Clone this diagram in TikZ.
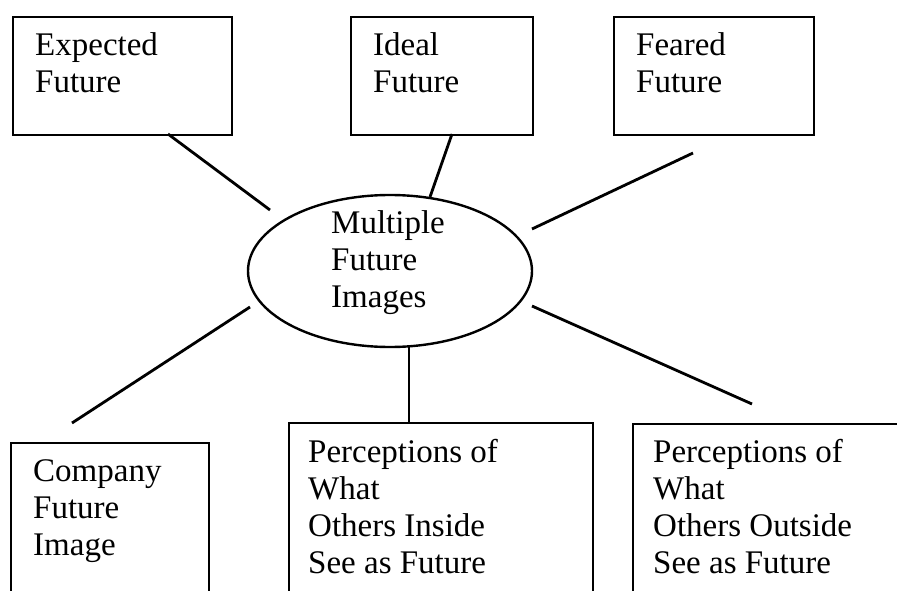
\documentclass[tikz,border=0pt]{standalone}
\usepackage{fontspec}
\setmainfont{Liberation Serif}
\usetikzlibrary{shapes.geometric}

\tikzset{
  box/.style={draw, line width=2.4pt, rectangle, inner sep=0pt, anchor=north west},
  hub/.style={draw, line width=2.4pt, ellipse, inner sep=0pt},
  % base anchor of a multi-line node sits on its last line
  lbl/.style={inner sep=0pt, anchor=base west, align=left,
              font=\fontsize{33}{37}\selectfont},
  link/.style={line width=2.8pt}
}

\begin{document}
\begin{tikzpicture}[x=1pt, y=-1pt]
  \useasboundingbox (0,0) rectangle (897,591);
  \clip (0,0) rectangle (897,591);

  % top row of boxes
  \node[box, minimum width=219pt, minimum height=118pt] (expected) at (12,16) {};
  \node[box, minimum width=182pt, minimum height=118pt] (ideal) at (350,16) {};
  \node[box, minimum width=200pt, minimum height=118pt] (feared) at (613,16) {};

  % bottom row of boxes, running past the lower edge
  \node[box, minimum width=198pt, minimum height=200pt] (company) at (10,442) {};
  \node[box, minimum width=304pt, minimum height=220pt] (inside) at (288,422) {};
  \node[box, minimum width=300pt, minimum height=220pt] (outside) at (632,423) {};

  % central ellipse
  \node[hub, minimum width=284pt, minimum height=152pt] (hub) at (390,271) {};

  % texts, placed by the baseline of their last line
  \node[lbl] (texp) at (35,93) {Expected\\Future};
  \node[lbl] (tide) at (373,93) {Ideal\\Future};
  \node[lbl] (tfea) at (636,93) {Feared\\Future};
  \node[lbl] (thub) at (331,307) {Multiple\\Future\\Images};
  \node[lbl] (tcom) at (33,555) {Company\\Future\\Image};
  \node[lbl] (tins) at (308,573) {Perceptions of\\What\\Others Inside\\See as Future};
  \node[lbl] (tout) at (653,573) {Perceptions of\\What\\Others Outside\\See as Future};

  % free ends of the spokes
  \coordinate (a1) at (168,134);
  \coordinate (a2) at (270,210);
  \coordinate (b1) at (452,134);
  \coordinate (b2) at (430,197);
  \coordinate (c1) at (693,153);
  \coordinate (c2) at (532,229);
  \coordinate (d1) at (250,307);
  \coordinate (d2) at (72,423);
  \coordinate (e1) at (409,347);
  \coordinate (e2) at (409,422);
  \coordinate (f1) at (532,306);
  \coordinate (f2) at (752,404);

  % spokes
  \draw[link] (a1) -- (a2);
  \draw[link] (b1) -- (b2);
  \draw[link] (c1) -- (c2);
  \draw[link] (d1) -- (d2);
  \draw[link] (e1) -- (e2);
  \draw[link] (f1) -- (f2);
\end{tikzpicture}
\end{document}
